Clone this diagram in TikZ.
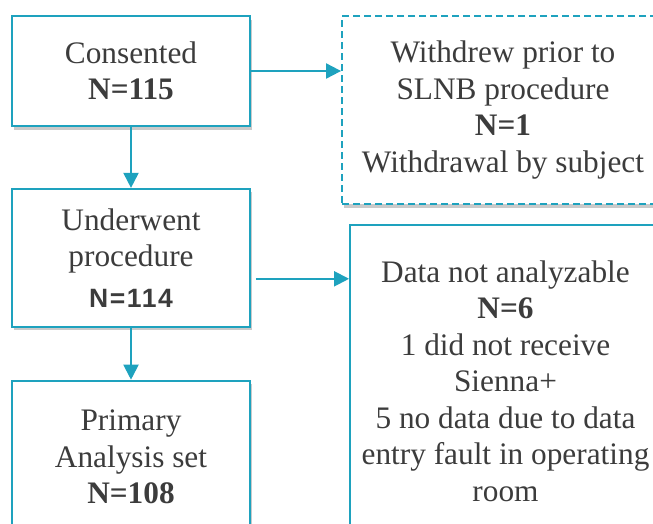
\documentclass[tikz,border=0pt]{standalone}
\usepackage{fontspec}
\setmainfont{Liberation Serif}
\newfontfamily\numfont[LetterSpace=6]{Liberation Sans}
\usetikzlibrary{arrows.meta,positioning,shadows}
\definecolor{flowteal}{RGB}{30,162,190}
\definecolor{flowtext}{RGB}{60,60,60}

\begin{document}
\begin{tikzpicture}[x=1pt,y=-1pt,
    box/.style={rectangle,draw=flowteal,line width=1.8pt,fill=white,text=flowtext,
      align=center,inner sep=0pt,minimum width=238pt,
      font=\fontsize{31.3}{36.5}\selectfont,
      drop shadow={shadow xshift=2pt,shadow yshift=-3.5pt,fill=black!60,opacity=0.35}},
    flow/.style={draw=flowteal,line width=2pt,-{Triangle[length=15pt,width=15pt]}}]
  \clip (0,0) rectangle (653,523);
  % left column
  \node[box,minimum height=110pt] (cons) at (131,71) {Consented\\\textbf{N=115}};
  \node[box,minimum height=138pt,below=61pt of cons] (und)
    {Underwent\\procedure\\[4pt]{\numfont\bfseries\fontsize{26.5}{30}\selectfont N=114}};
  \node[box,minimum height=153pt,below=52pt of und] (pas)
    {Primary\\Analysis set\\\textbf{N=108}};
  % right column
  \node[box,dash pattern=on 7pt off 4pt,minimum width=322pt,minimum height=188pt] (wdr) at (503,110)
    {Withdrew prior to\\SLNB procedure\\\textbf{N=1}\\Withdrawal by subject};
  \node[box,minimum width=311pt,minimum height=312pt] (dna) at (505.5,381)
    {Data not analyzable\\\textbf{N=6}\\1 did not receive\\Sienna+\\5 no data due to data\\entry fault in operating\\room};
  % connectors
  \draw[flow] (cons) -- (und);
  \draw[flow] (und) -- (pas);
  \draw[flow] (cons.east) -- (cons.east -| wdr.west);
  \coordinate (fork) at ([yshift=-21pt]und.east);
  \draw[flow] ([xshift=5pt]fork) -- (fork -| dna.west);
\end{tikzpicture}
\end{document}
